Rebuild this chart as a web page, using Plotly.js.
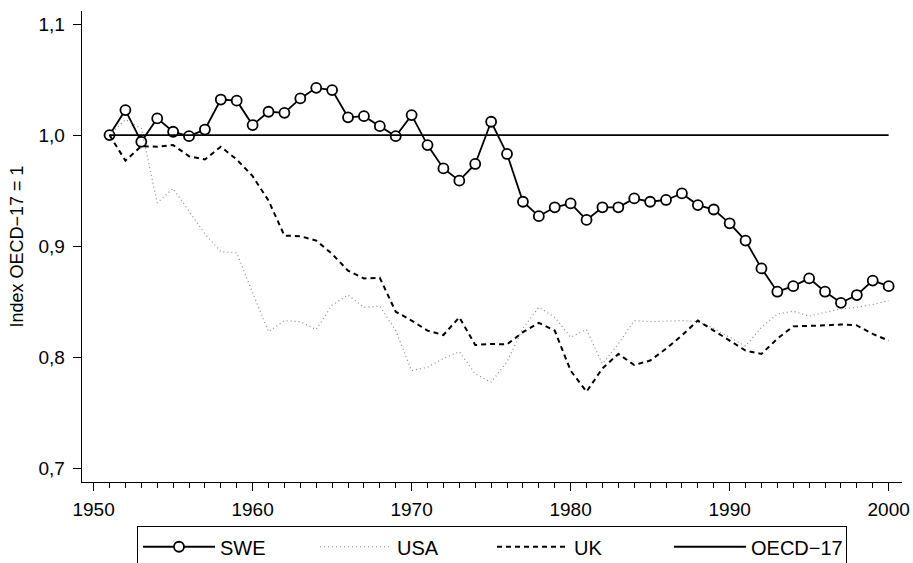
<!DOCTYPE html>
<html>
<head>
<meta charset="utf-8">
<script src="https://cdn.plot.ly/plotly-3.0.1.min.js"></script>
<style>
  html, body { margin: 0; padding: 0; background: #fff; }
  #chart { width: 913px; height: 563px; }
</style>
</head>
<body>
<div id="chart"></div>
<script>
// ---- Data ----
const years = [1951,1952,1953,1954,1955,1956,1957,1958,1959,1960,
               1961,1962,1963,1964,1965,1966,1967,1968,1969,1970,
               1971,1972,1973,1974,1975,1976,1977,1978,1979,1980,
               1981,1982,1983,1984,1985,1986,1987,1988,1989,1990,
               1991,1992,1993,1994,1995,1996,1997,1998,1999,2000];

const swe = [1.000,1.0225,0.994,1.015,1.003,0.999,1.005,1.032,1.031,1.009,
             1.021,1.020,1.033,1.0425,1.0405,1.016,1.017,1.008,0.999,1.018,
             0.991,0.970,0.959,0.974,1.012,0.983,0.940,0.927,0.935,0.9385,
             0.9236,0.935,0.935,0.943,0.940,0.9416,0.9475,0.937,0.933,0.9206,
             0.905,0.880,0.859,0.864,0.871,0.859,0.849,0.856,0.869,0.864];

const usa = [1.000,1.014,1.006,0.939,0.952,0.932,0.911,0.895,0.894,0.858,
             0.823,0.833,0.832,0.825,0.847,0.856,0.845,0.846,0.824,0.788,
             0.791,0.799,0.805,0.785,0.7775,0.796,0.826,0.845,0.836,0.818,
             0.825,0.794,0.812,0.833,0.832,0.8325,0.833,0.832,0.826,0.818,
             0.810,0.827,0.839,0.8415,0.837,0.8405,0.8435,0.845,0.8475,0.851];

const uk = [1.000,0.977,0.990,0.9895,0.991,0.981,0.978,0.9895,0.978,0.963,
            0.941,0.9095,0.909,0.905,0.893,0.878,0.871,0.8715,0.841,0.833,
            0.824,0.820,0.836,0.811,0.812,0.8116,0.8226,0.831,0.824,0.788,
            0.769,0.790,0.803,0.793,0.797,0.8077,0.8197,0.833,0.824,0.815,
            0.806,0.803,0.8167,0.8278,0.828,0.8287,0.8295,0.8287,0.821,0.815];

const oecd = [1,1,1,1,1,1,1,1,1,1,
              1,1,1,1,1,1,1,1,1,1,
              1,1,1,1,1,1,1,1,1,1,
              1,1,1,1,1,1,1,1,1,1,
              1,1,1,1,1,1,1,1,1,1];

const seriesNames = ["SWE", "USA", "UK", "OECD\u221217"];
const xTickVals = [1950, 1960, 1970, 1980, 1990, 2000];
const xTickText = ["1950", "1960", "1970", "1980", "1990", "2000"];
const yTickVals = [0.7, 0.8, 0.9, 1.0, 1.1];
const yTickText = ["0,7", "0,8", "0,9", "1,0", "1,1"];
const yTitle = "Index OECD\u221217 = 1";

// ---- Chart ----
const FONT = "Liberation Sans, Arial, Helvetica, sans-serif";

const traces = [
  {
    x: years, y: swe, name: seriesNames[0], type: "scatter", mode: "lines+markers",
    line: { color: "#000", width: 1.8 },
    marker: { symbol: "circle", size: 10, color: "#fff", line: { color: "#000", width: 1.8 } }
  },
  {
    x: years, y: usa, name: seriesNames[1], type: "scatter", mode: "lines",
    line: { color: "#8a8a8a", width: 1.2, dash: "1px,3px" }
  },
  {
    x: years, y: uk, name: seriesNames[2], type: "scatter", mode: "lines",
    line: { color: "#000", width: 2, dash: "5px,4px" }
  },
  {
    x: years, y: oecd, name: seriesNames[3], type: "scatter", mode: "lines",
    line: { color: "#000", width: 1.8 }
  }
];

const layout = {
  width: 913, height: 563,
  margin: { l: 82, r: 11, t: 11, b: 81, pad: 0, autoexpand: false },
  paper_bgcolor: "#fff", plot_bgcolor: "#fff",
  font: { family: FONT, size: 19, color: "#000" },
  showlegend: true,
  xaxis: {
    range: [1949.27, 2000.84],
    tickvals: xTickVals, ticktext: xTickText,
    ticks: "outside", ticklen: 8, tickwidth: 1, tickcolor: "#000",
    showline: true, linecolor: "#000", linewidth: 1.3,
    showgrid: false, zeroline: false, automargin: false,
    tickfont: { family: FONT, size: 19, color: "#000" },
    ticklabelstandoff: 2,
    minor: { dtick: 1, tick0: 1950, ticks: "outside", ticklen: 5, tickwidth: 1, tickcolor: "#000", showgrid: false }
  },
  yaxis: {
    range: [0.6877, 1.1117],
    tickvals: yTickVals, ticktext: yTickText,
    ticks: "outside", ticklen: 8, tickwidth: 1, tickcolor: "#000",
    showline: true, linecolor: "#000", linewidth: 1.3,
    showgrid: false, zeroline: false, automargin: false,
    tickfont: { family: FONT, size: 19, color: "#000" },
    ticklabelstandoff: 4,
    title: { text: yTitle, font: { family: FONT, size: 18, color: "#000" }, standoff: 10 }
  },
  legend: {
    orientation: "h",
    x: 0.5, xanchor: "center",
    y: -0.094, yanchor: "top",
    bordercolor: "#000", borderwidth: 1, bgcolor: "#fff",
    font: { family: FONT, size: 20, color: "#000" },
    itemwidth: 72,
    entrywidth: 90,
    tracegroupgap: 0
  }
};

Plotly.newPlot("chart", traces, layout, { displayModeBar: false, staticPlot: true });
</script>
</body>
</html>
